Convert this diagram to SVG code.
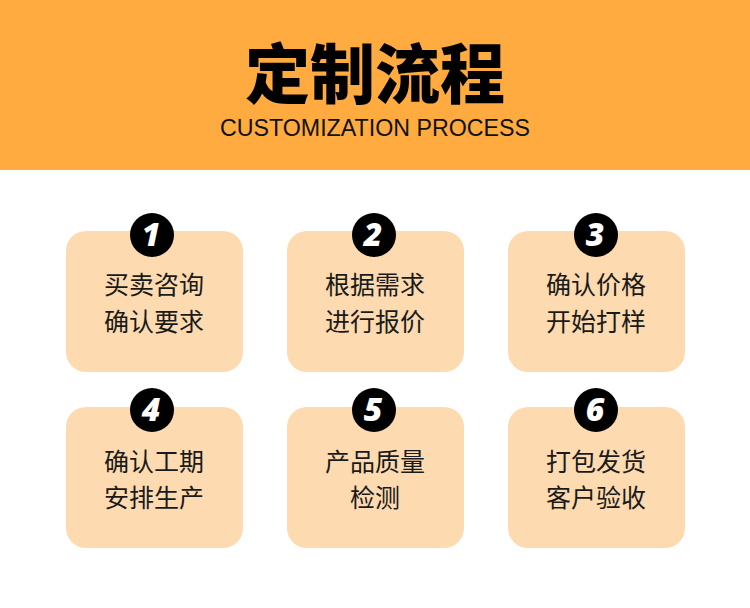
<svg xmlns="http://www.w3.org/2000/svg" width="750" height="608" viewBox="0 0 750 608">
<style>
.box{fill:#FDDAB0}
.badge{fill:#000}
.num{fill:#fff;font-family:"Open Sans","Liberation Sans",sans-serif;font-weight:800;font-style:italic;font-size:32px;text-anchor:middle}
.txt{fill:#1a1a1a;font-family:"Noto Sans CJK SC",sans-serif;font-size:25px;text-anchor:middle}
</style>
<rect x="0" y="0" width="750" height="170" fill="#FFAB40"/>
<rect x="0" y="170" width="750" height="438" fill="#fff"/>
<text x="375" y="98" text-anchor="middle" font-family="'Noto Sans CJK SC',sans-serif" font-weight="900" font-size="65" fill="#000">定制流程</text>
<text x="375" y="136" text-anchor="middle" font-family="'Liberation Sans',Arial,sans-serif" font-size="23" fill="#111" textLength="310" lengthAdjust="spacingAndGlyphs">CUSTOMIZATION PROCESS</text>
<g id="connectors"></g>
<g id="step1">
<rect class="box" x="66" y="231" width="177" height="141" rx="20"/>
<circle class="badge" cx="152" cy="235" r="22"/>
<text class="num" x="151" y="246">1</text>
<text class="txt" x="154" y="294">买卖咨询</text>
<text class="txt" x="154" y="331">确认要求</text>
</g>
<g id="step2">
<rect class="box" x="287" y="231" width="177" height="141" rx="20"/>
<circle class="badge" cx="374" cy="235" r="22"/>
<text class="num" x="373" y="246">2</text>
<text class="txt" x="375" y="294">根据需求</text>
<text class="txt" x="375" y="331">进行报价</text>
</g>
<g id="step3">
<rect class="box" x="508" y="231" width="177" height="141" rx="20"/>
<circle class="badge" cx="596" cy="235" r="22"/>
<text class="num" x="595" y="246">3</text>
<text class="txt" x="596" y="294">确认价格</text>
<text class="txt" x="596" y="331">开始打样</text>
</g>
<g id="step4">
<rect class="box" x="66" y="407" width="177" height="141" rx="20"/>
<circle class="badge" cx="152" cy="410" r="22"/>
<text class="num" x="151" y="421">4</text>
<text class="txt" x="154" y="471">确认工期</text>
<text class="txt" x="154" y="507">安排生产</text>
</g>
<g id="step5">
<rect class="box" x="287" y="407" width="177" height="141" rx="20"/>
<circle class="badge" cx="374" cy="410" r="22"/>
<text class="num" x="373" y="421">5</text>
<text class="txt" x="375" y="471">产品质量</text>
<text class="txt" x="375" y="507">检测</text>
</g>
<g id="step6">
<rect class="box" x="508" y="407" width="177" height="141" rx="20"/>
<circle class="badge" cx="596" cy="410" r="22"/>
<text class="num" x="595" y="421">6</text>
<text class="txt" x="596" y="471">打包发货</text>
<text class="txt" x="596" y="507">客户验收</text>
</g>
</svg>
